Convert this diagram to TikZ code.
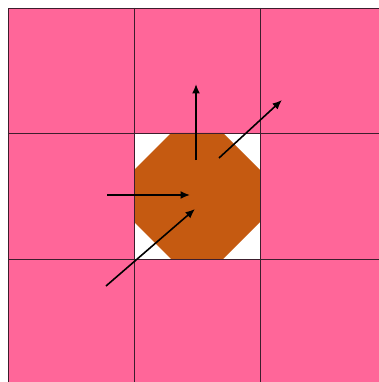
\documentclass[tikz,border=0pt]{standalone}
\usetikzlibrary{arrows.meta}
\definecolor{cellpink}{RGB}{255,102,153}
\definecolor{octbrown}{RGB}{197,90,17}
\definecolor{gridline}{RGB}{60,30,45}
\begin{document}
\begin{tikzpicture}[x=1pt,y=-1pt,
  gridstyle/.style={draw=gridline,line width=0.8pt},
  vec/.style={-{Latex[length=9.5pt,width=8pt]},line width=1.6pt,black}]
\useasboundingbox (0,0) rectangle (379,382);
\begin{scope}
\clip (0,0) rectangle (379,382);
\fill[cellpink] (8,8) rectangle (386,386);
\fill[white] (134,133) rectangle (260,259);
\fill[octbrown] (171,133) -- (223,133) -- (260,170) -- (260,222) -- (223,259) -- (171,259) -- (134,222) -- (134,170) -- cycle;
\draw[gridstyle] (8,386) -- (8,8) -- (386,8);
\draw[gridstyle] (134,8) -- (134,386);
\draw[gridstyle] (260,8) -- (260,386);
\draw[gridstyle] (8,133) -- (386,133);
\draw[gridstyle] (8,259) -- (386,259);
\end{scope}
\coordinate (a1) at (196,160); \coordinate (b1) at (196,84);
\coordinate (a2) at (219,158); \coordinate (b2) at (282,100);
\coordinate (a3) at (107,195); \coordinate (b3) at (190,195);
\coordinate (a4) at (106,286); \coordinate (b4) at (195,209);
\draw[vec] (a1) -- (b1);
\draw[vec] (a2) -- (b2);
\draw[vec] (a3) -- (b3);
\draw[vec] (a4) -- (b4);
\end{tikzpicture}
\end{document}
